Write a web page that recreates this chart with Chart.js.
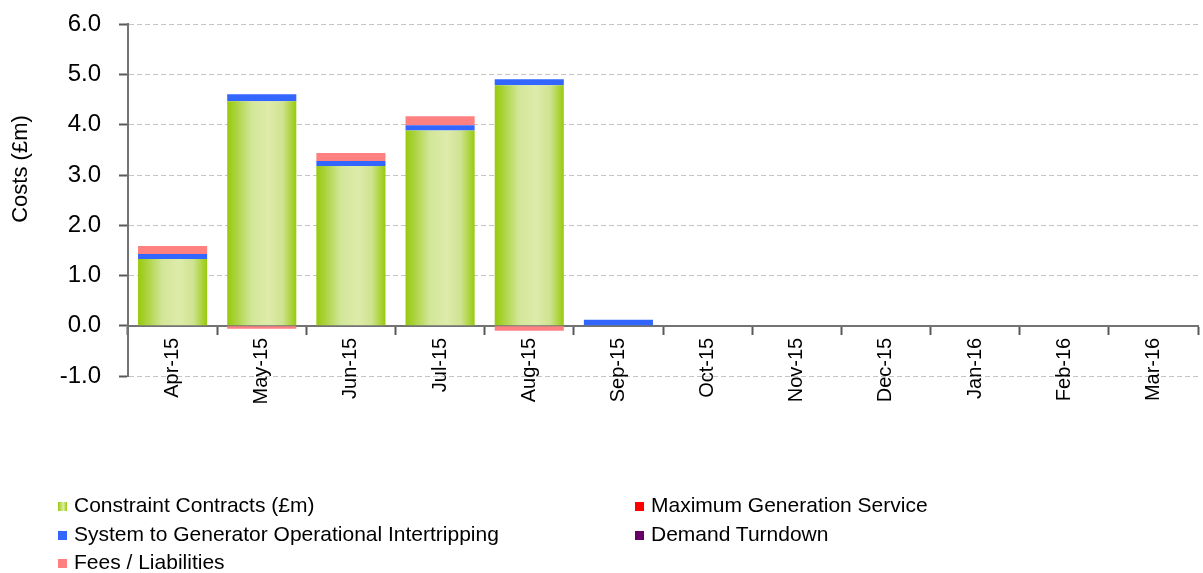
<!DOCTYPE html>
<html>
<head>
<meta charset="utf-8">
<script src="https://cdn.jsdelivr.net/npm/chart.js@4/dist/chart.umd.min.js"></script>
<style>
  html, body { margin: 0; padding: 0; background: #fff; }
  #wrap { position: relative; width: 1203px; height: 573px; overflow: hidden; }
  #myChart { position: absolute; left: 0; top: -8px; }
  #legend { position: absolute; left: 58px; top: 493px; width: 1140px;
            font-family: "Liberation Sans", Arial, sans-serif; font-size: 21px; color: #000; }
  .item { position: absolute; white-space: nowrap; line-height: 24px; }
  .box { display: inline-block; width: 9px; height: 9px; margin-right: 7px; vertical-align: 1px; }
</style>
</head>
<body>
<div id="wrap">
  <canvas id="myChart" width="1203" height="581"></canvas>
  <div id="legend"></div>
</div>
<script>
'use strict';

// months on the x axis
const months = ['Apr-15', 'May-15', 'Jun-15', 'Jul-15', 'Aug-15', 'Sep-15',
                'Oct-15', 'Nov-15', 'Dec-15', 'Jan-16', 'Feb-16', 'Mar-16'];

// costs in £m
const constraintContracts = [1.33, 4.47, 3.18, 3.89, 4.79, 0, 0, 0, 0, 0, 0, 0];
const maxGeneration      = [0, 0, 0, 0, 0, 0, 0, 0, 0, 0, 0, 0];
const intertripping      = [0.10, 0.14, 0.10, 0.10, 0.12, 0.12, 0, 0, 0, 0, 0, 0];
const demandTurndown     = [0, 0, 0, 0, 0, 0, 0, 0, 0, 0, 0, 0];
const feesLiabilities    = [0.16, -0.06, 0.16, 0.18, -0.10, 0, 0, 0, 0, 0, 0, 0];

const yTicks = [-1, 0, 1, 2, 3, 4, 5, 6];
const yTitle = 'Costs (£m)';

const BAR_PCT = 0.775;

// green bars get a horizontal "cylinder" gradient
function greenFill(ctx) {
   const chart = ctx.chart;
   const xs = chart.scales && chart.scales.x;
   if (!chart.chartArea || !xs || ctx.dataIndex === undefined) return '#9ACD14';
   const cx = xs.getPixelForValue(ctx.dataIndex);
   const w = (xs.width / months.length) * BAR_PCT;
   const g = chart.ctx.createLinearGradient(cx - w / 2, 0, cx + w / 2, 0);
   g.addColorStop(0, '#98CA0C');
   g.addColorStop(0.12, '#A9D23A');
   g.addColorStop(0.35, '#D2E698');
   g.addColorStop(0.6, '#DEEBAA');
   g.addColorStop(0.8, '#CFE391');
   g.addColorStop(1, '#98CA0C');
   return g;
}

// axis title sits a bit above the middle in the original, so draw it by hand
const yTitlePlugin = {
   id: 'yTitle',
   afterDraw(chart) {
      const c = chart.ctx;
      c.save();
      c.translate(21, 177);   // canvas is shifted 8px up
      c.rotate(-Math.PI / 2);
      c.font = '22px "Liberation Sans"';
      c.fillStyle = '#000';
      c.textAlign = 'center';
      c.textBaseline = 'middle';
      c.fillText(yTitle, 0, 0);
      c.restore();
   }
};

const ctx = document.getElementById('myChart');
const myChart = new Chart(ctx, {
   type: 'bar',
   data: {
      labels: months,
      datasets: [
         { label: 'Constraint Contracts (£m)', data: constraintContracts, backgroundColor: greenFill },
         { label: 'Maximum Generation Service', data: maxGeneration, backgroundColor: '#FF0000' },
         { label: 'System to Generator Operational Intertripping', data: intertripping, backgroundColor: '#3366FF' },
         { label: 'Demand Turndown', data: demandTurndown, backgroundColor: '#660066' },
         { label: 'Fees / Liabilities', data: feesLiabilities, backgroundColor: '#FF8080' }
      ]
   },
   options: {
      responsive: false,
      animation: false,
      layout: { padding: { top: 16, right: 5, bottom: 197, left: 0 } },
      datasets: { bar: { barPercentage: BAR_PCT, categoryPercentage: 1, borderWidth: 0 } },
      plugins: { legend: { display: false }, tooltip: { enabled: false } },
      scales: {
         x: {
            stacked: true,
            position: { y: 0 },
            grid: { drawOnChartArea: false, offset: true, tickLength: 8, tickColor: '#595959', tickWidth: 2 },
            border: { color: '#737373', width: 2 },
            ticks: {
               minRotation: 90, maxRotation: 90, padding: 4,
               color: '#000',
               font: { family: 'Liberation Sans', size: 20 }
            }
         },
         y: {
            stacked: true,
            min: -1, max: 6,
            afterFit: (scale) => { scale.width = 128; },
            afterBuildTicks: (scale) => { scale.ticks = yTicks.map(v => ({ value: v })); },
            grid: {
               color: (c) => c.tick && c.tick.value === 0 ? 'rgba(0,0,0,0)' : '#C4C4C4',
               tickColor: '#595959',
               tickLength: 9,
               tickBorderDash: [],
               tickWidth: 2,
               lineWidth: 1
            },
            border: { color: '#737373', width: 2, dash: [5, 3] },
            ticks: {
               padding: 18,
               color: '#000',
               font: { family: 'Liberation Sans', size: 24 },
               callback: (v) => Number(v).toFixed(1)
            }
         }
      }
   },
   plugins: [yTitlePlugin]
});

// two-column legend like the original
const legendItems = [
   { text: 'Constraint Contracts (£m)', fill: 'linear-gradient(to right, #98CA0C, #DEEBAA 60%, #98CA0C)', col: 0, row: 0 },
   { text: 'Maximum Generation Service', fill: '#FF0000', col: 1, row: 0 },
   { text: 'System to Generator Operational Intertripping', fill: '#3366FF', col: 0, row: 1 },
   { text: 'Demand Turndown', fill: '#660066', col: 1, row: 1 },
   { text: 'Fees / Liabilities', fill: '#FF8080', col: 0, row: 2 }
];
const legendEl = document.getElementById('legend');
legendItems.forEach(function (it) {
   const d = document.createElement('div');
   d.className = 'item';
   d.style.left = (it.col * 577) + 'px';
   d.style.top = (it.row * 28.5) + 'px';
   const b = document.createElement('span');
   b.className = 'box';
   b.style.background = it.fill;
   d.appendChild(b);
   d.appendChild(document.createTextNode(it.text));
   legendEl.appendChild(d);
});
</script>
</body>
</html>
